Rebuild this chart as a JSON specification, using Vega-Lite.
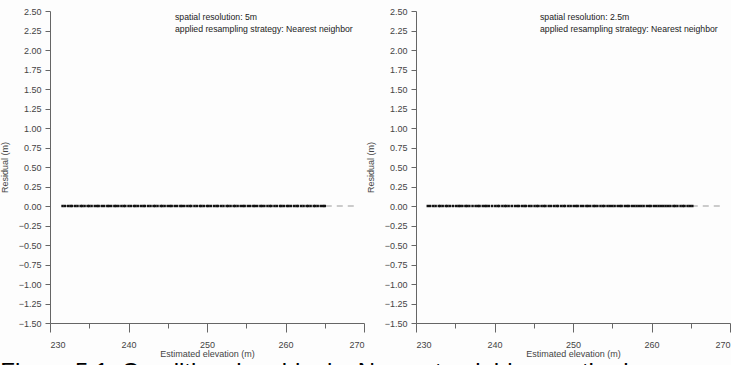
{
  "$schema": "https://vega.github.io/schema/vega-lite/v6.json",
  "padding": {"left": 0, "top": 7, "right": 0, "bottom": 0},
  "background": "#fdfdfd",
  "bounds": "flush",
  "spacing": 52,
  "title": {"text": "Figure 5.1: Conditional residuals, Nearest neighbor method", "orient": "bottom", "anchor": "start", "fontSize": 24, "font": "Liberation Sans", "fontWeight": "normal", "color": "#000", "offset": 3},
  "config": {
    "font": "Liberation Sans",
    "view": {"stroke": null},
    "axis": {"grid": false, "domainColor": "#666", "tickColor": "#666", "labelColor": "#444", "titleColor": "#444", "labelFontSize": 9, "titleFontSize": 9, "titleFontWeight": "normal", "labelFont": "Liberation Sans", "titleFont": "Liberation Sans"}
  },
  "datasets": {
    "p5": [
      {"x":231.6,"y":0},{"x":231.9,"y":0},{"x":232.3,"y":0},{"x":232.6,"y":0},{"x":232.8,"y":0},{"x":233.2,"y":0},{"x":233.5,"y":0},{"x":233.9,"y":0},{"x":234.1,"y":0},{"x":234.4,"y":0},{"x":234.8,"y":0},{"x":235.0,"y":0},{"x":235.3,"y":0},{"x":235.7,"y":0},{"x":236.0,"y":0},{"x":236.2,"y":0},{"x":236.6,"y":0},{"x":236.9,"y":0},{"x":237.3,"y":0},{"x":237.5,"y":0},{"x":237.8,"y":0},{"x":238.2,"y":0},{"x":238.4,"y":0},{"x":238.7,"y":0},{"x":239.1,"y":0},{"x":239.4,"y":0},{"x":239.6,"y":0},{"x":240.0,"y":0},{"x":240.3,"y":0},{"x":240.7,"y":0},{"x":240.9,"y":0},{"x":241.2,"y":0},{"x":241.6,"y":0},{"x":241.9,"y":0},{"x":242.1,"y":0},{"x":242.5,"y":0},{"x":242.8,"y":0},{"x":243.2,"y":0},{"x":243.4,"y":0},{"x":243.7,"y":0},{"x":244.1,"y":0},{"x":244.3,"y":0},{"x":244.6,"y":0},{"x":245.0,"y":0},{"x":245.3,"y":0},{"x":245.5,"y":0},{"x":245.9,"y":0},{"x":246.2,"y":0},{"x":246.6,"y":0},{"x":246.8,"y":0},{"x":247.1,"y":0},{"x":247.5,"y":0},{"x":247.8,"y":0},{"x":248.0,"y":0},{"x":248.4,"y":0},{"x":248.7,"y":0},{"x":249.1,"y":0},{"x":249.3,"y":0},{"x":249.6,"y":0},{"x":250.0,"y":0},{"x":250.2,"y":0},{"x":250.5,"y":0},{"x":250.9,"y":0},{"x":251.2,"y":0},{"x":251.4,"y":0},{"x":251.8,"y":0},{"x":252.1,"y":0},{"x":252.5,"y":0},{"x":252.7,"y":0},{"x":253.0,"y":0},{"x":253.4,"y":0},{"x":253.6,"y":0},{"x":253.9,"y":0},{"x":254.3,"y":0},{"x":254.6,"y":0},{"x":254.8,"y":0},{"x":255.2,"y":0},{"x":255.5,"y":0},{"x":255.9,"y":0},{"x":256.1,"y":0},{"x":256.4,"y":0},{"x":256.8,"y":0},{"x":257.0,"y":0},{"x":257.3,"y":0},{"x":257.7,"y":0},{"x":258.0,"y":0},{"x":258.2,"y":0},{"x":258.6,"y":0},{"x":258.9,"y":0},{"x":259.3,"y":0},{"x":259.5,"y":0},{"x":259.8,"y":0},{"x":260.2,"y":0},{"x":260.4,"y":0},{"x":260.7,"y":0},{"x":261.1,"y":0},{"x":261.4,"y":0},{"x":261.6,"y":0},{"x":262.0,"y":0},{"x":262.3,"y":0},{"x":262.7,"y":0},{"x":262.9,"y":0},{"x":263.2,"y":0},{"x":263.6,"y":0},{"x":263.8,"y":0},{"x":264.1,"y":0},{"x":264.5,"y":0},{"x":264.8,"y":0},{"x":265.0,"y":0}
    ],
    "p25": [
      {"x":231.5,"y":0},{"x":231.8,"y":0},{"x":232.2,"y":0},{"x":232.5,"y":0},{"x":232.9,"y":0},{"x":233.1,"y":0},{"x":233.4,"y":0},{"x":233.8,"y":0},{"x":234.0,"y":0},{"x":234.3,"y":0},{"x":234.7,"y":0},{"x":235.1,"y":0},{"x":235.4,"y":0},{"x":235.6,"y":0},{"x":235.9,"y":0},{"x":236.3,"y":0},{"x":236.5,"y":0},{"x":236.8,"y":0},{"x":237.2,"y":0},{"x":237.6,"y":0},{"x":237.9,"y":0},{"x":238.1,"y":0},{"x":238.5,"y":0},{"x":238.8,"y":0},{"x":239.0,"y":0},{"x":239.3,"y":0},{"x":239.7,"y":0},{"x":240.1,"y":0},{"x":240.4,"y":0},{"x":240.6,"y":0},{"x":241.0,"y":0},{"x":241.3,"y":0},{"x":241.5,"y":0},{"x":241.8,"y":0},{"x":242.2,"y":0},{"x":242.6,"y":0},{"x":242.9,"y":0},{"x":243.1,"y":0},{"x":243.5,"y":0},{"x":243.8,"y":0},{"x":244.0,"y":0},{"x":244.4,"y":0},{"x":244.7,"y":0},{"x":245.1,"y":0},{"x":245.4,"y":0},{"x":245.6,"y":0},{"x":246.0,"y":0},{"x":246.3,"y":0},{"x":246.5,"y":0},{"x":246.9,"y":0},{"x":247.2,"y":0},{"x":247.6,"y":0},{"x":247.9,"y":0},{"x":248.1,"y":0},{"x":248.5,"y":0},{"x":248.8,"y":0},{"x":249.0,"y":0},{"x":249.4,"y":0},{"x":249.7,"y":0},{"x":250.1,"y":0},{"x":250.4,"y":0},{"x":250.6,"y":0},{"x":251.0,"y":0},{"x":251.3,"y":0},{"x":251.7,"y":0},{"x":251.9,"y":0},{"x":252.2,"y":0},{"x":252.6,"y":0},{"x":252.8,"y":0},{"x":253.1,"y":0},{"x":253.5,"y":0},{"x":253.8,"y":0},{"x":254.0,"y":0},{"x":254.4,"y":0},{"x":254.7,"y":0},{"x":255.0,"y":0},{"x":255.3,"y":0},{"x":255.7,"y":0},{"x":256.0,"y":0},{"x":256.2,"y":0},{"x":256.6,"y":0},{"x":256.9,"y":0},{"x":257.1,"y":0},{"x":257.5,"y":0},{"x":257.8,"y":0},{"x":258.1,"y":0},{"x":258.4,"y":0},{"x":258.7,"y":0},{"x":259.0,"y":0},{"x":259.4,"y":0},{"x":259.7,"y":0},{"x":259.9,"y":0},{"x":260.3,"y":0},{"x":260.6,"y":0},{"x":260.9,"y":0},{"x":261.2,"y":0},{"x":261.5,"y":0},{"x":261.8,"y":0},{"x":262.1,"y":0},{"x":262.4,"y":0},{"x":262.8,"y":0},{"x":263.0,"y":0},{"x":263.3,"y":0},{"x":263.7,"y":0},{"x":264.0,"y":0},{"x":264.2,"y":0},{"x":264.6,"y":0},{"x":264.9,"y":0},{"x":265.2,"y":0}
    ],
    "fit5": [{"x":231.5,"y":0},{"x":269.2,"y":0}],
    "fit25": [{"x":231.5,"y":0},{"x":269.3,"y":0}]
  },
  "hconcat": [
    {
      "width": 314, "height": 312,
      "title": {"text": ["spatial resolution: 5m", "applied resampling strategy: Nearest neighbor"], "orient": "top", "anchor": "start", "frame": "group", "dx": 125, "offset": -27, "baseline": "top", "fontSize": 8.7, "fontWeight": "normal", "lineHeight": 12, "color": "#222", "font": "Liberation Sans"},
      "encoding": {
        "x": {"field": "x", "type": "quantitative", "scale": {"domain": [230, 270], "nice": false, "zero": false},
          "axis": {"values": [230,235,240,245,250,255,260,265,270], "labelExpr": "datum.value % 10 === 0 ? datum.label : ''", "tickSize": {"condition": {"test": "datum.value % 10 === 0", "value": 9}, "value": 5}, "labelPadding": 8, "title": "Estimated elevation (m)", "titlePadding": 0}},
        "y": {"field": "y", "type": "quantitative", "scale": {"domain": [-1.5, 2.5], "nice": false, "zero": false},
          "axis": {"values": [-1.5,-1.25,-1,-0.75,-0.5,-0.25,0,0.25,0.5,0.75,1,1.25,1.5,1.75,2,2.25,2.5], "format": ".2f", "tickSize": 5, "labelPadding": 4, "title": "Residual (m)", "titlePadding": 9}}
      },
      "layer": [
        {"data": {"name": "fit5"}, "mark": {"type": "line", "color": "#999", "strokeWidth": 1, "strokeDash": [6, 5]}},
        {"data": {"name": "p5"}, "mark": {"type": "square", "size": 6, "color": "#111", "opacity": 1}}
      ]
    },
    {
      "width": 314, "height": 312,
      "title": {"text": ["spatial resolution: 2.5m", "applied resampling strategy: Nearest neighbor"], "orient": "top", "anchor": "start", "frame": "group", "dx": 124, "offset": -27, "baseline": "top", "fontSize": 8.7, "fontWeight": "normal", "lineHeight": 12, "color": "#222", "font": "Liberation Sans"},
      "encoding": {
        "x": {"field": "x", "type": "quantitative", "scale": {"domain": [230, 270], "nice": false, "zero": false},
          "axis": {"values": [230,235,240,245,250,255,260,265,270], "labelExpr": "datum.value % 10 === 0 ? datum.label : ''", "tickSize": {"condition": {"test": "datum.value % 10 === 0", "value": 9}, "value": 5}, "labelPadding": 8, "title": "Estimated elevation (m)", "titlePadding": 0}},
        "y": {"field": "y", "type": "quantitative", "scale": {"domain": [-1.5, 2.5], "nice": false, "zero": false},
          "axis": {"values": [-1.5,-1.25,-1,-0.75,-0.5,-0.25,0,0.25,0.5,0.75,1,1.25,1.5,1.75,2,2.25,2.5], "format": ".2f", "tickSize": 5, "labelPadding": 4, "title": "Residual (m)", "titlePadding": 9}}
      },
      "layer": [
        {"data": {"name": "fit25"}, "mark": {"type": "line", "color": "#999", "strokeWidth": 1, "strokeDash": [6, 5]}},
        {"data": {"name": "p25"}, "mark": {"type": "square", "size": 6, "color": "#111", "opacity": 1}}
      ]
    }
  ]
}
